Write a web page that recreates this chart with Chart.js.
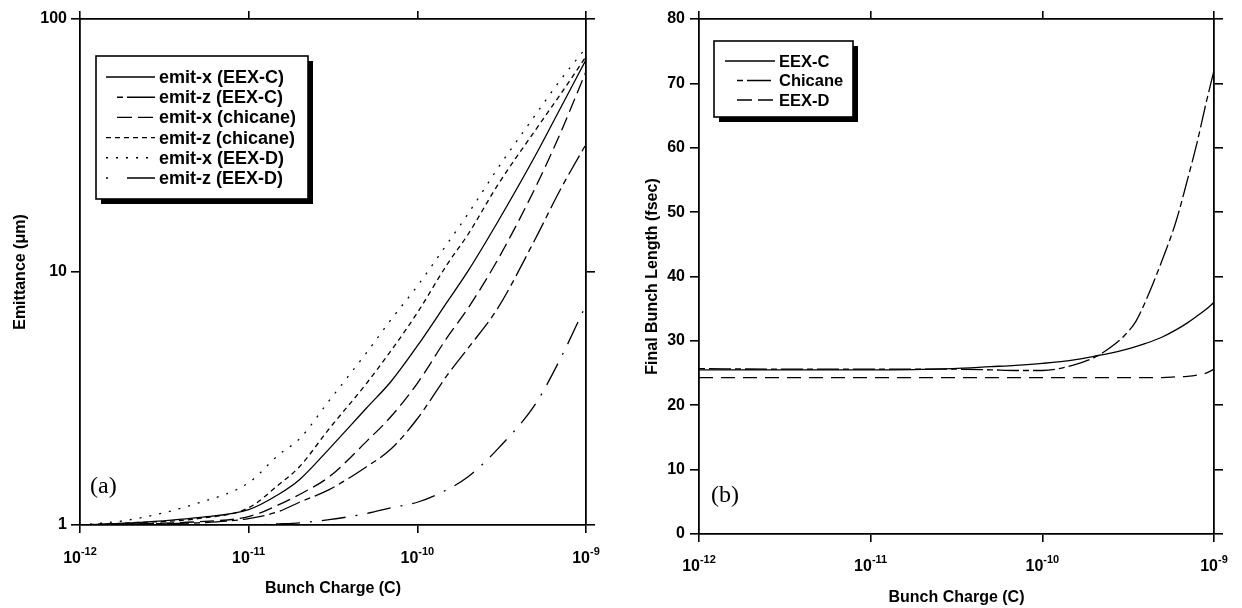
<!DOCTYPE html>
<html>
<head>
<meta charset="utf-8">
<script src="https://cdn.jsdelivr.net/npm/chart.js@4.4.1/dist/chart.umd.min.js"></script>
<style>
  html, body { margin: 0; padding: 0; background: #fff; }
  canvas { position: absolute; top: 0; }
  #emit { left: 0; }
  #blen { left: 621px; }
</style>
</head>
<body>
<canvas id="emit" width="621" height="608"></canvas>
<canvas id="blen" width="621" height="608"></canvas>
<script>
// (a) emittance vs bunch charge
const chargeA = [1e-12, 2e-12, 5e-12, 1e-11, 1.5e-11, 2e-11, 3e-11, 5e-11, 7e-11, 1e-10, 1.5e-10, 2e-10, 3e-10, 5e-10, 7e-10, 1e-9];
const emitXEEXC    = [1.0, 1.02, 1.07, 1.15, 1.32, 1.51, 2.0, 2.9, 3.7, 5.1, 7.6, 10.1, 15.8, 28.8, 44, 69];
const emitZEEXC    = [1.0, 1.01, 1.02, 1.06, 1.13, 1.23, 1.38, 1.70, 2.0, 2.63, 3.9, 5.0, 7.2, 13.5, 21, 32];
const emitXChicane = [1.0, 1.01, 1.03, 1.08, 1.20, 1.32, 1.55, 2.14, 2.69, 3.63, 5.5, 7.2, 11.2, 21.5, 35, 62];
const emitZChicane = [1.0, 1.02, 1.06, 1.17, 1.44, 1.70, 2.40, 3.63, 4.9, 6.9, 10.7, 14.1, 22.1, 36.3, 50, 71];
const emitXEEXD    = [1.0, 1.05, 1.22, 1.47, 1.89, 2.19, 3.1, 4.8, 6.5, 8.8, 12.9, 17.0, 25.7, 41.7, 57, 77];
const emitZEEXD    = [1.0, 1.0, 1.0, 1.0, 1.01, 1.02, 1.05, 1.11, 1.17, 1.23, 1.38, 1.55, 2.0, 3.0, 4.5, 7.4];

// (b) final bunch length vs bunch charge
const chargeB = [1e-12, 3e-12, 1e-11, 3e-11, 5e-11, 7e-11, 1e-10, 1.5e-10, 2e-10, 2.5e-10, 3e-10, 3.5e-10, 4e-10, 5e-10, 6e-10, 7e-10, 8e-10, 9e-10, 1e-9];
const lenEEXC    = [25.5, 25.5, 25.5, 25.7, 26.0, 26.2, 26.5, 27.0, 27.6, 28.1, 28.6, 29.1, 29.6, 30.6, 31.7, 32.8, 33.9, 34.9, 36.0];
const lenChicane = [25.7, 25.6, 25.6, 25.6, 25.5, 25.4, 25.4, 26.2, 27.4, 29.0, 30.8, 33.0, 36.2, 42.6, 48.5, 55.0, 61.0, 67.0, 72.0];
const lenEEXD    = [24.3, 24.3, 24.3, 24.3, 24.3, 24.3, 24.3, 24.3, 24.3, 24.3, 24.3, 24.3, 24.3, 24.3, 24.4, 24.5, 24.7, 25.0, 25.6];

const decades = [1e-12, 1e-11, 1e-10, 1e-9];
const emitTicks = [1, 10, 100];

const FAMILY = '"Liberation Sans", Arial, Helvetica, sans-serif';
Chart.defaults.font.family = FAMILY;
Chart.defaults.font.weight = 'bold';
Chart.defaults.color = '#000';

const pts = (xs, ys) => xs.map((x, i) => ({ x, y: ys[i] }));
const line = (label, xs, ys, dash) => ({
  label, data: pts(xs, ys), borderColor: '#000', borderWidth: 1.3,
  borderDash: dash, pointRadius: 0, fill: false, cubicInterpolationMode: 'monotone'
});

// boxed legend with a drop shadow
const boxLegend = {
  id: 'boxLegend',
  afterDatasetsDraw(chart, args, o) {
    const ctx = chart.ctx;
    ctx.save();
    ctx.fillStyle = '#000';
    ctx.fillRect(o.left + o.shadow, o.top + o.shadow, o.width, o.height);
    ctx.fillStyle = '#fff';
    ctx.fillRect(o.left, o.top, o.width, o.height);
    ctx.strokeStyle = '#000';
    ctx.lineWidth = 1.6;
    ctx.strokeRect(o.left, o.top, o.width, o.height);
    chart.data.datasets.forEach((ds, i) => {
      const y = o.rowY + i * o.rowGap;
      ctx.setLineDash(o.dashes[i] || []);
      ctx.lineWidth = 1.4;
      ctx.beginPath();
      ctx.moveTo(o.lineX0, y);
      ctx.lineTo(o.lineX1, y);
      ctx.stroke();
      ctx.setLineDash([]);
      ctx.font = o.font;
      ctx.fillStyle = '#000';
      ctx.textBaseline = 'middle';
      ctx.fillText(ds.label, o.textX, y + 1);
    });
    ctx.restore();
  }
};

// 10^n labels under the log x axis
const expTicks = {
  id: 'expTicks',
  afterDraw(chart, args, o) {
    const s = chart.scales.x, ctx = chart.ctx;
    ctx.save();
    ctx.fillStyle = '#000';
    ctx.textBaseline = 'alphabetic';
    s.ticks.forEach(t => {
      const px = s.getPixelForValue(t.value);
      const exp = String(Math.round(Math.log10(t.value)));
      ctx.font = 'bold 16px ' + FAMILY;
      const wb = ctx.measureText('10').width;
      ctx.font = 'bold 11px ' + FAMILY;
      const we = ctx.measureText(exp).width;
      const x0 = px - (wb + we) / 2;
      const y = s.top + o.baseline;
      ctx.font = 'bold 16px ' + FAMILY;
      ctx.fillText('10', x0, y);
      ctx.font = 'bold 11px ' + FAMILY;
      ctx.fillText(exp, x0 + wb, y - 8);
    });
    ctx.restore();
  }
};

const panelTag = {
  id: 'panelTag',
  afterDraw(chart, args, o) {
    const ctx = chart.ctx;
    ctx.save();
    ctx.font = '24px "Liberation Serif", "Times New Roman", serif';
    ctx.fillStyle = '#000';
    ctx.textBaseline = 'middle';
    ctx.fillText(o.text, o.x, o.y);
    ctx.restore();
  }
};

const frameGrid = { drawOnChartArea: false, color: '#000', lineWidth: 1.6, tickLength: 9 };
const frameBorder = { color: '#000', width: 1.8 };
const titleFont = { size: 16, weight: 'bold' };

function logX(pos, size, title) {
  const sc = {
    type: 'logarithmic', position: pos, min: 1e-12, max: 1e-9,
    afterBuildTicks: s => { s.ticks = decades.map(v => ({ value: v })); },
    ticks: { display: false },
    grid: Object.assign({}, frameGrid, { tickLength: 8 }),
    border: frameBorder,
    afterFit: s => { s.height = size; }
  };
  if (title) sc.title = title;
  return sc;
}

new Chart(document.getElementById('emit'), {
  type: 'line',
  data: {
    datasets: [
      line('emit-x (EEX-C)', chargeA, emitXEEXC, []),
      line('emit-z (EEX-C)', chargeA, emitZEEXC, [6, 5, 22, 5]),
      line('emit-x (chicane)', chargeA, emitXChicane, [14, 6]),
      line('emit-z (chicane)', chargeA, emitZChicane, [5, 4]),
      line('emit-x (EEX-D)', chargeA, emitXEEXD, [2, 8]),
      line('emit-z (EEX-D)', chargeA, emitZEEXD, [2, 10, 24, 10])
    ]
  },
  options: {
    responsive: false, animation: false, devicePixelRatio: 1,
    layout: { padding: 0 },
    plugins: {
      legend: { display: false }, tooltip: { enabled: false },
      boxLegend: { left: 96, top: 56, width: 212, height: 143, shadow: 5,
        lineX0: 106, lineX1: 155, textX: 159, rowY: 77, rowGap: 20.2, font: 'bold 18px ' + FAMILY,
        dashes: [[], [0, 11, 6, 4, 28, 4], [0, 11, 15, 6, 15, 6], [5, 4], [2, 8], [2, 19, 28, 6]] },
      expTicks: { baseline: 38 },
      panelTag: { text: '(a)', x: 90, y: 487 }
    },
    scales: {
      x: logX('bottom', 83, { display: true, text: 'Bunch Charge (C)', font: titleFont, padding: { top: 0, bottom: 10 } }),
      x2: logX('top', 19),
      y: {
        type: 'logarithmic', position: 'left', min: 1, max: 100,
        afterBuildTicks: s => { s.ticks = emitTicks.map(v => ({ value: v })); },
        ticks: { font: { size: 16, weight: 'bold' }, padding: 4, callback: v => String(v) },
        grid: frameGrid, border: frameBorder,
        title: { display: true, text: 'Emittance (μm)', font: titleFont, padding: { top: 11, bottom: 0 } },
        afterFit: s => { s.width = 80; }
      },
      y2: {
        type: 'logarithmic', position: 'right', min: 1, max: 100,
        afterBuildTicks: s => { s.ticks = emitTicks.map(v => ({ value: v })); },
        ticks: { display: false },
        grid: frameGrid, border: frameBorder,
        afterFit: s => { s.width = 35; }
      }
    }
  },
  plugins: [boxLegend, expTicks, panelTag]
});

new Chart(document.getElementById('blen'), {
  type: 'line',
  data: {
    datasets: [
      line('EEX-C', chargeB, lenEEXC, []),
      line('Chicane', chargeB, lenChicane, [6, 4, 22, 4]),
      line('EEX-D', chargeB, lenEEXD, [14, 8])
    ]
  },
  options: {
    responsive: false, animation: false, devicePixelRatio: 1,
    layout: { padding: 0 },
    plugins: {
      legend: { display: false }, tooltip: { enabled: false },
      boxLegend: { left: 93, top: 41, width: 139, height: 76, shadow: 5,
        lineX0: 104, lineX1: 154, textX: 158, rowY: 61, rowGap: 19.5, font: 'bold 16.5px ' + FAMILY,
        dashes: [[], [0, 12, 6, 4, 24, 4], [0, 12, 15, 6, 15, 6]] },
      expTicks: { baseline: 37 },
      panelTag: { text: '(b)', x: 90, y: 496 }
    },
    scales: {
      x: logX('bottom', 74, { display: true, text: 'Bunch Charge (C)', font: titleFont, padding: { top: 0, bottom: 1 } }),
      x2: logX('top', 19),
      y: {
        type: 'linear', position: 'left', min: 0, max: 80,
        ticks: { stepSize: 10, font: { size: 16, weight: 'bold' }, padding: 5 },
        grid: frameGrid, border: frameBorder,
        title: { display: true, text: 'Final Bunch Length (fsec)', font: titleFont, padding: { top: 22, bottom: 0 } },
        afterFit: s => { s.width = 78; }
      },
      y2: {
        type: 'linear', position: 'right', min: 0, max: 80,
        ticks: { stepSize: 10, display: false },
        grid: frameGrid, border: frameBorder,
        afterFit: s => { s.width = 28; }
      }
    }
  },
  plugins: [boxLegend, expTicks, panelTag]
});
</script>
</body>
</html>
